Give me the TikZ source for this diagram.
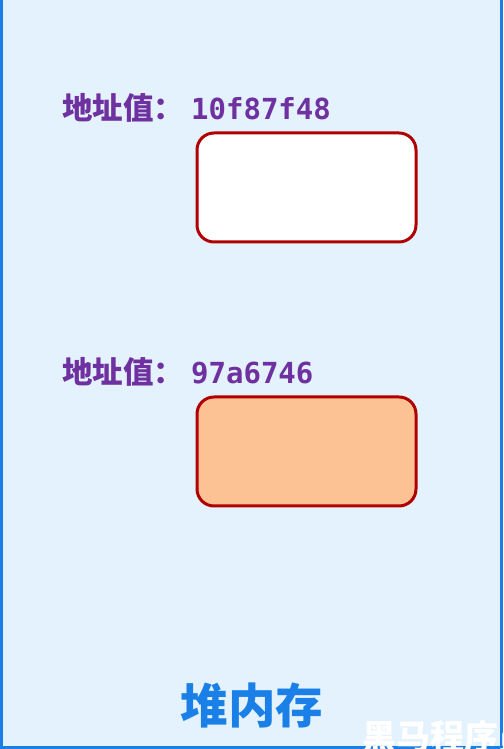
\documentclass[tikz,border=0pt]{standalone}
\usepackage{fontspec}
\newfontfamily\cjk{Noto Sans CJK SC}
\newfontfamily\monof{DejaVu Sans Mono}
\definecolor{bgblue}{HTML}{E3F2FD}
\definecolor{frameblue}{HTML}{1A80E8}
\definecolor{titleblue}{HTML}{1A80E8}
\definecolor{labelpurple}{HTML}{6F30A0}
\definecolor{boxred}{HTML}{B00000}
\definecolor{boxorange}{HTML}{FCC294}
\tikzset{
  memcell/.style={draw=boxred, line width=3pt, rounded corners=17pt},
  addrlabel/.style={anchor=base west, inner sep=0pt, text=labelpurple, font=\bfseries},
  framestroke/.style={draw=frameblue, line width=3.2pt},
}
\begin{document}
\begin{tikzpicture}[x=1pt,y=1pt]
\useasboundingbox (0,0) rectangle (503,749);
\clip (0,0) rectangle (503,749);
\fill[bgblue] (0,0) rectangle (503,749);
% frame
\coordinate (tl) at (1.6,760);
\coordinate (bl) at (1.6,1.6);
\coordinate (br) at (501.4,1.6);
\coordinate (tr) at (501.4,760);
\draw[framestroke] (tl) -- (bl) -- (br) -- (tr);
% cells
\path[memcell, fill=white] (197,507) rectangle (416,616);
\node[addrlabel] (lab1) at (62,629) {\cjk\fontsize{30.5}{30}\selectfont 地址值：\hspace{7pt}\monof\fontsize{29}{29}\selectfont 10f87f48};
\path[memcell, fill=boxorange] (197,243) rectangle (416,352);
\node[addrlabel] (lab2) at (62,365) {\cjk\fontsize{30.5}{30}\selectfont 地址值：\hspace{7pt}\monof\fontsize{29}{29}\selectfont 97a6746};
% title
\node[anchor=base, inner sep=0pt, text=titleblue] (title) at (252,25) {\cjk\bfseries\fontsize{47.5}{47}\selectfont 堆内存};
% watermark
\node[anchor=base west, inner sep=0pt, text=white] (wm) at (362,-1) {\cjk\bfseries\fontsize{34}{34}\selectfont 黑马程序员};
\end{tikzpicture}
\end{document}
